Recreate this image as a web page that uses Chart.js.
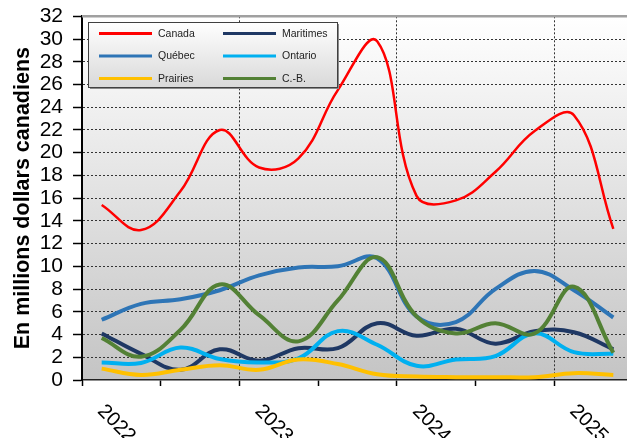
<!DOCTYPE html>
<html>
<head>
<meta charset="utf-8">
<script src="https://cdn.jsdelivr.net/npm/chart.js@4.4.0/dist/chart.umd.min.js"></script>
<style>
  html, body { margin: 0; padding: 0; overflow: hidden; background: #fff; }
  #myChart { display: block; }
</style>
</head>
<body>
<canvas id="myChart" width="633" height="438"></canvas>
<script>
// trimestres 2022 T1 .. 2025 T2, libellé seulement au T1
var categories = ['2022', '', '', '', '2023', '', '', '', '2024', '', '', '', '2025', ''];
var yTicks = [0, 32, 2];

var canada    = [15.4, 13.2, 16.6, 22.0, 18.7, 19.5, 25.5, 29.8, 16.2, 15.8, 18.3, 21.9, 23.3, 13.3];
var maritimes = [4.1, 2.3, 0.9, 2.7, 1.7, 2.8, 2.8, 5.0, 3.9, 4.5, 3.2, 4.3, 4.2, 2.7];
var quebec    = [5.3, 6.7, 7.1, 7.9, 9.2, 9.9, 10.0, 10.7, 5.6, 5.1, 8.0, 9.6, 7.9, 5.5];
var ontario   = [1.55, 1.5, 2.85, 1.85, 1.55, 1.9, 4.3, 3.1, 1.25, 1.8, 2.1, 4.1, 2.45, 2.3];
var prairies  = [1.0, 0.45, 0.9, 1.3, 0.9, 1.8, 1.4, 0.5, 0.3, 0.25, 0.25, 0.25, 0.6, 0.45];
var cb        = [3.7, 2.05, 4.4, 8.4, 5.7, 3.4, 7.0, 10.8, 5.6, 4.1, 5.0, 4.1, 8.2, 2.4];

var seriesNames  = ['Canada', 'Maritimes', 'Québec', 'Ontario', 'Prairies', 'C.-B.'];
var seriesData   = [canada, maritimes, quebec, ontario, prairies, cb];
var seriesColors = ['#ff0000', '#1f3864', '#2e75b6', '#00b0f0', '#ffc000', '#538135'];

var FONT = "'Liberation Sans', Arial, sans-serif";

var datasets = [];
for (var i = 0; i < seriesNames.length; i++) {
    datasets.push({
        label: seriesNames[i],
        data: seriesData[i],
        borderColor: seriesColors[i],
        borderWidth: i === 0 ? 2.5 : 4,
        tension: 0.4,
        pointRadius: 0,
        fill: false,
        order: seriesNames.length - i
    });
}

// fond dégradé de la zone de tracé
var bgPlugin = {
    id: 'bg',
    beforeDraw: function (chart) {
        var a = chart.chartArea, c = chart.ctx;
        var g = c.createLinearGradient(0, a.top, 0, a.bottom);
        g.addColorStop(0, '#ffffff');
        g.addColorStop(1, '#c4c4c4');
        c.save();
        c.fillStyle = g;
        c.fillRect(a.left, a.top, a.right - a.left, a.bottom - a.top);
        c.restore();
    }
};

// bordure du haut, libellés en diagonale, légende
var decoPlugin = {
    id: 'deco',
    afterDraw: function (chart) {
        var a = chart.chartArea, c = chart.ctx;
        var xs = chart.scales.x;
        c.save();
        c.strokeStyle = '#a0a0a0';
        c.lineWidth = 2.5;
        c.beginPath();
        c.moveTo(a.left, a.top);
        c.lineTo(a.right, a.top);
        c.stroke();

        c.fillStyle = '#000';
        c.font = '20px ' + FONT;
        c.textAlign = 'left';
        c.textBaseline = 'middle';
        for (var k = 0; k < categories.length; k++) {
            if (!categories[k]) continue;
            var px = xs.getPixelForValue(k);
            c.save();
            c.translate(px - 1, a.bottom + 28);
            c.rotate(Math.PI / 4);
            c.fillText(categories[k], 0, 0);
            c.restore();
        }

        // légende
        var bx = 88, by = 22, bw = 249, bh = 65;
        c.fillStyle = '#8a8a8a';
        c.fillRect(bx + 2, by + 2, bw, bh);
        var lg = c.createLinearGradient(0, by, 0, by + bh);
        lg.addColorStop(0, '#ffffff');
        lg.addColorStop(1, '#d9d9d9');
        c.fillStyle = lg;
        c.fillRect(bx, by, bw, bh);
        c.strokeStyle = '#404040';
        c.lineWidth = 1;
        c.strokeRect(bx + 0.5, by + 0.5, bw, bh);

        c.font = '10.5px ' + FONT;
        c.textBaseline = 'middle';
        for (var j = 0; j < seriesNames.length; j++) {
            var col = j % 2, row = Math.floor(j / 2);
            var lx = col === 0 ? 99 : 223;
            var ly = 33.5 + row * 22.5;
            c.strokeStyle = seriesColors[j];
            c.lineWidth = 3;
            c.beginPath();
            c.moveTo(lx, ly);
            c.lineTo(lx + 53, ly);
            c.stroke();
            c.fillStyle = '#222';
            c.fillText(seriesNames[j], lx + 59, ly + 0.5);
        }
        c.restore();
    }
};

var ctx = document.getElementById('myChart').getContext('2d');
var myChart = new Chart(ctx, {
    type: 'line',
    data: {
        labels: categories,
        datasets: datasets
    },
    options: {
        responsive: false,
        animation: false,
        layout: { padding: { top: 15, left: 0, right: 0, bottom: 0 } },
        plugins: {
            legend: { display: false },
            tooltip: { enabled: false }
        },
        scales: {
            x: {
                type: 'category',
                offset: true,
                grid: {
                    offset: true,
                    lineWidth: 1,
                    color: function (c) {
                        return (c.index % 4 === 0 && c.index > 0) ? '#333' : 'rgba(0,0,0,0)';
                    },
                    tickColor: function (c) {
                        return (c.index % 2 === 0) ? '#000' : 'rgba(0,0,0,0)';
                    },
                    tickWidth: 1.5,
                    tickLength: 6
                },
                border: { display: true, color: '#222', width: 1.5, dash: [2, 2] },
                ticks: { display: false },
                afterFit: function (s) { s.height = 58; }
            },
            y: {
                min: yTicks[0],
                max: yTicks[1],
                ticks: {
                    stepSize: yTicks[2],
                    autoSkip: false,
                    color: '#000',
                    padding: 10,
                    font: { family: FONT, size: 21, lineHeight: 0.6 }
                },
                grid: {
                    lineWidth: 1,
                    color: function (c) {
                        return (c.index === 0 || c.tick.value === yTicks[1]) ? 'rgba(0,0,0,0)' : '#333';
                    },
                    tickColor: '#000',
                    tickWidth: 1.5,
                    tickLength: 9
                },
                border: { display: true, color: '#000', width: 2, dash: [2, 2] },
                title: {
                    display: true,
                    text: 'En millions dollars canadiens',
                    color: '#000',
                    font: { family: FONT, size: 21.5, weight: 'bold', lineHeight: 1.1 },
                    padding: { top: 11, bottom: 0 }
                },
                afterFit: function (s) { s.width = 82; }
            }
        }
    },
    plugins: [bgPlugin, decoPlugin]
});
</script>
</body>
</html>
